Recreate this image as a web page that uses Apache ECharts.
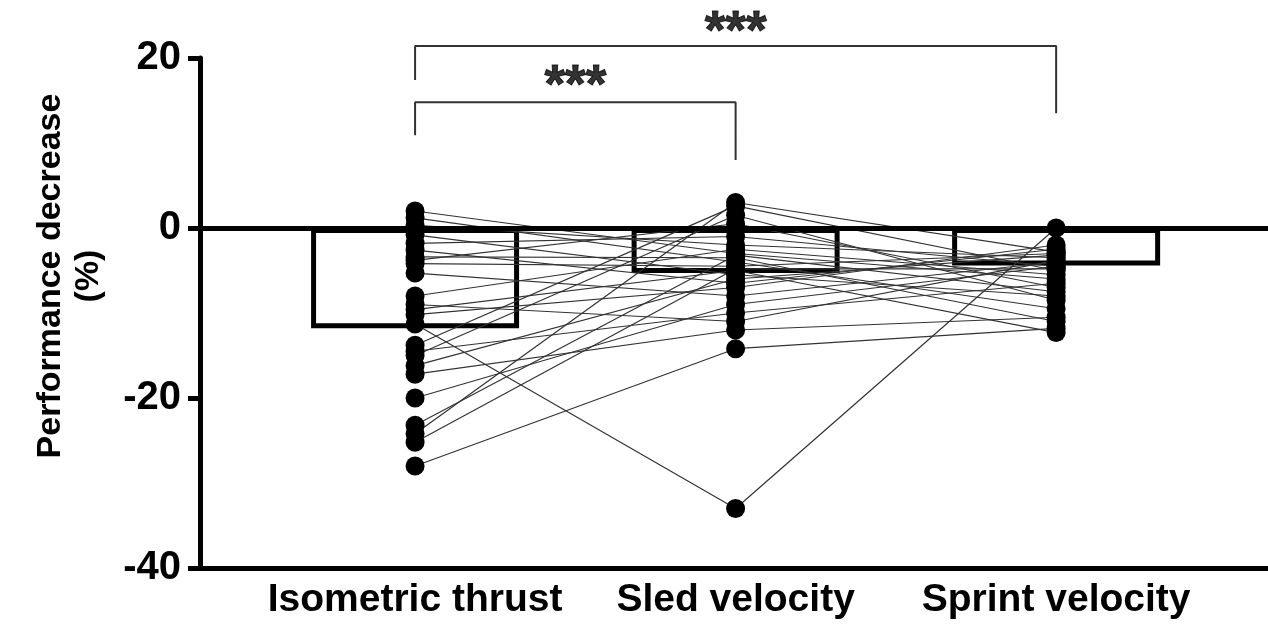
<!DOCTYPE html>
<html><head><meta charset="utf-8">
<script src="https://cdn.jsdelivr.net/npm/echarts@6/dist/echarts.min.js"></script>
<style>html,body{margin:0;padding:0;background:#fff}#c{width:1268px;height:625px}</style>
</head><body><div id="c"></div>
<script>
// ---- data ----
const categories = ['Isometric thrust', 'Sled velocity', 'Sprint velocity'];
const categoryPos = [0, 1, 2];
const meanValues = [-11.8, -5.3, -4.4];
const isometric = [2.0, 1.2, 0.3, -0.8, -1.8, -2.6, -3.4, -3.8, -4.2, -5.3, -8.0, -9.0, -9.6, -10.2, -11.3, -13.8, -14.5, -15.0, -16.2, -17.2, -20.0, -23.2, -24.2, -25.2, -28.0];
const sled      = [-3.0, -4.0, -2.0, -5.5, -1.0, -6.5, -3.5, 0.5, -4.5, -8.0, -2.5, -11.0, -5.0, -7.0, -33.0, 2.6, -10.0, 1.5, -6.0, -12.0, -9.0, -3.2, 3.0, -4.8, -14.2];
const sprint    = [-6.0, -9.5, -3.5, -8.0, -4.5, -2.5, -11.0, -7.0, -3.0, -4.0, -5.5, -3.8, -12.3, -2.0, 0.0, -5.0, -6.5, -8.5, -3.2, -10.5, -4.5, -7.5, -2.8, -4.8, -11.8];
const yTicks = [-40, -20, 0, 20];
const sigLabels = ['***', '***'];
const brackets = [
  [[0, 17.4], [0, 21.4], [2, 21.4], [2, 13.5]],
  [[0, 10.9], [0, 14.8], [1, 14.8], [1, 8.0]]
];
const sigPos = [[1, 22.9], [0.5, 16.5]];

// ---- build ----
const FONT = "'Liberation Sans', Arial, Helvetica, sans-serif";
const cols = [isometric, sled, sprint];
const series = [];
series.push({
  type: 'bar', data: meanValues.map((v, i) => [categoryPos[i], v]), barWidth: 208,
  itemStyle: { color: 'rgba(0,0,0,0)', borderColor: '#000', borderWidth: 5 },
  z: 2, silent: true,
  markLine: { symbol: ['none', 'none'], silent: true, label: { show: false },
    lineStyle: { color: '#000', width: 5, type: 'solid' }, data: [{ yAxis: 0 }] }
});
for (let s = 0; s < isometric.length; s++) {
  series.push({
    type: 'line', data: cols.map((c, i) => [categoryPos[i], c[s]]), symbol: 'none',
    lineStyle: { color: '#333', width: 1.2 }, z: 3, silent: true
  });
}
const dots = [];
cols.forEach((c, i) => c.forEach(v => dots.push([categoryPos[i], v])));
series.push({ type: 'scatter', data: dots, symbol: 'circle', symbolSize: 19,
  itemStyle: { color: '#000', opacity: 1 }, z: 5, silent: true });
brackets.forEach(b => series.push({ type: 'line', data: b, symbol: 'none', clip: false,
  lineStyle: { color: '#333', width: 2 }, z: 4, silent: true }));
series.push({ type: 'scatter', data: sigPos.map((p, i) => ({ value: p, name: sigLabels[i] })),
  symbolSize: 1, clip: false, itemStyle: { color: 'rgba(0,0,0,0)' }, silent: true, z: 6,
  label: { show: true, position: 'inside', formatter: p => p.name, color: '#000',
    textBorderColor: '#000', textBorderWidth: 1,
    fontFamily: FONT, fontWeight: 'bold', fontSize: 53 } });

const chart = echarts.init(document.getElementById('c'), null, { renderer: 'canvas' });
chart.setOption({
  animation: false,
  backgroundColor: '#fff',
  grid: { left: 200, right: 0, top: 58, bottom: 57, containLabel: false },
  xAxis: {
    type: 'value', min: -0.671, max: 2.661, splitLine: { show: false },
    axisLine: { show: true, onZero: false, lineStyle: { color: '#000', width: 5 } },
    axisTick: { show: false },
    axisLabel: { customValues: categoryPos, formatter: v => categories[Math.round(v)] || '',
      color: '#000', fontFamily: FONT, fontWeight: 'bold', fontSize: 39, margin: 13 }
  },
  yAxis: {
    type: 'value', min: yTicks[0], max: yTicks[yTicks.length - 1], interval: 20,
    splitLine: { show: false },
    axisLine: { show: true, onZero: false, lineStyle: { color: '#000', width: 5 } },
    axisTick: { show: true, length: 12, lineStyle: { color: '#000', width: 5 } },
    axisLabel: { color: '#000', fontFamily: FONT, fontWeight: 'bold', fontSize: 40, margin: 19 }
  },
  graphic: [{
    type: 'text', x: 70, y: 276, rotation: Math.PI / 2,
    style: { text: 'Performance decrease\n(%)', fill: '#000', font: 'bold 34px ' + FONT,
      align: 'center', verticalAlign: 'middle', lineHeight: 38 }
  }],
  series: series
});
</script></body></html>
